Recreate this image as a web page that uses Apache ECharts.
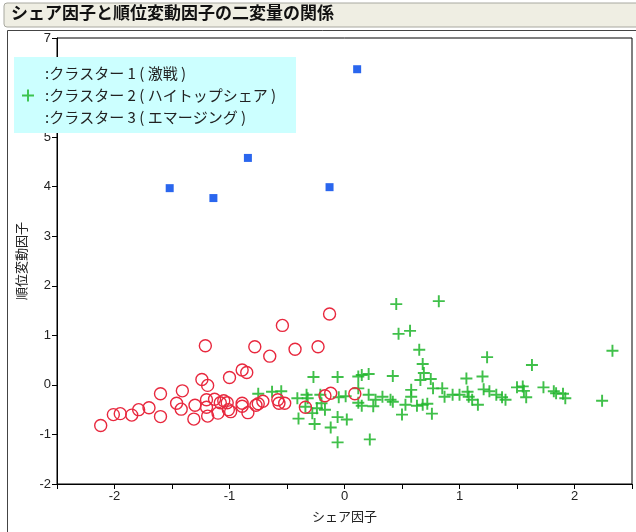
<!DOCTYPE html>
<html>
<head>
<meta charset="utf-8">
<script src="https://cdn.jsdelivr.net/npm/echarts@6/dist/echarts.min.js"></script>
<style>
  html, body { margin: 0; padding: 0; background: #fff; }
  #chart { width: 636px; height: 532px; }
</style>
</head>
<body>
<div id="chart"></div>
<script>
var seriesNames = [':クラスター 1 ( 激戦 )', ':クラスター 2 ( ハイトップシェア )', ':クラスター 3 ( エマージング )'];

// クラスター1 (激戦)
var cluster1 = [[-1.52, 3.97], [-1.14, 3.77], [-0.84, 4.58], [-0.13, 3.99], [0.11, 6.37]];

// クラスター2 (ハイトップシェア)
var cluster2 = [
    [0.45, 1.63], [0.82, 1.69], [0.47, 1.03], [0.57, 1.09], [0.65, 0.71], [0.68, 0.42], [0.69, 0.24],
    [0.66, 0.10], [0.75, 0.12], [1.24, 0.56], [1.20, 0.17], [1.06, 0.13], [1.63, 0.40], [2.33, 0.69],
    [2.24, -0.32], [0.42, 0.18], [0.12, 0.17], [0.21, 0.22], [0.15, 0.20], [-0.06, 0.16], [-0.27, 0.16],
    [-0.55, -0.13], [-0.63, -0.14], [-0.75, -0.18], [-0.41, -0.27], [-0.33, -0.20], [-0.32, -0.27],
    [-0.21, -0.20], [-0.20, -0.37], [-0.24, -0.47], [-0.17, -0.50], [-0.28, -0.57], [-0.26, -0.79],
    [-0.40, -0.68], [-0.12, -0.86], [-0.06, -0.65], [0.02, -0.70], [-0.06, -1.16], [0.22, -1.10],
    [-0.05, -0.25], [0.01, -0.23], [0.12, -0.07], [0.12, -0.36], [0.15, -0.42], [0.21, -0.20],
    [0.27, -0.30], [0.25, -0.43], [0.33, -0.24], [0.40, -0.30], [0.42, -0.34], [0.50, -0.60],
    [0.53, -0.40], [0.58, -0.10], [0.58, -0.24], [0.63, -0.42], [0.68, -0.40], [0.72, -0.38],
    [0.76, -0.58], [0.77, -0.07], [0.85, -0.07], [0.87, -0.24], [0.94, -0.20], [1.00, -0.20],
    [1.07, -0.14], [1.08, -0.24], [1.11, -0.30], [1.16, -0.40], [1.21, -0.09], [1.26, -0.13],
    [1.32, -0.20], [1.37, -0.25], [1.40, -0.30], [1.50, -0.05], [1.55, -0.03], [1.56, -0.12],
    [1.58, -0.25], [1.73, -0.05], [1.82, -0.13], [1.84, -0.17], [1.90, -0.18], [1.92, -0.27],
    [-0.34, -0.44]
];

// クラスター3 (エマージング)
var cluster3 = [
    [-2.12, -0.82], [-2.01, -0.60], [-1.95, -0.58], [-1.85, -0.61], [-1.79, -0.50], [-1.70, -0.46],
    [-1.60, -0.18], [-1.60, -0.64], [-1.46, -0.37], [-1.42, -0.49], [-1.41, -0.12], [-1.30, -0.41],
    [-1.31, -0.69], [-1.24, 0.11], [-1.19, -0.01], [-1.21, 0.79], [-1.20, -0.30], [-1.20, -0.45],
    [-1.19, -0.63], [-1.13, -0.29], [-1.10, -0.57], [-1.08, -0.36], [-1.05, -0.32], [-1.02, -0.36],
    [-1.00, 0.15], [-1.01, -0.50], [-0.99, -0.54], [-0.89, 0.30], [-0.85, 0.25], [-0.89, -0.37],
    [-0.89, -0.43], [-0.84, -0.56], [-0.78, 0.77], [-0.77, -0.41], [-0.75, -0.38], [-0.71, -0.33],
    [-0.65, 0.58], [-0.54, 1.20], [-0.58, -0.30], [-0.57, -0.37], [-0.52, -0.37], [-0.43, 0.72],
    [-0.34, -0.45], [-0.23, 0.77], [-0.13, 1.43], [-0.17, -0.22], [-0.12, -0.17], [0.09, -0.18]
];

var xMin = -2.5, xMax = 2.5, xStep = 0.5;
var yMin = -2, yMax = 7, yStep = 1;

var plusPath = 'path://M4.2,0H5.8V4.2H10V5.8H5.8V10H4.2V5.8H0V4.2H4.2Z';
var labelFont = '"Liberation Sans", Arial, sans-serif';
var jpFont = '"Noto Sans CJK JP", sans-serif';

var myChart = echarts.init(document.getElementById('chart'));

var option = {
    backgroundColor: '#fff',
    animation: false,
    graphic: [
        {
            type: 'rect', z: 0,
            shape: { x: 4, y: 3, width: 640, height: 24, r: 3 },
            style: { fill: '#efeee3', stroke: '#a8a8a0', lineWidth: 1 }
        },
        {
            type: 'text', z: 1, left: 11, top: 4,
            style: { text: 'シェア因子と順位変動因子の二変量の関係', font: 'bold 17px ' + jpFont, fill: '#111' }
        },
        {
            type: 'rect', z: 0,
            shape: { x: 7.5, y: 30.5, width: 640, height: 520 },
            style: { fill: 'none', stroke: '#444', lineWidth: 1 }
        },
        {
            type: 'rect', z: 3,
            shape: { x: 14, y: 57, width: 282, height: 76 },
            style: { fill: '#ccffff' }
        }
    ],
    legend: {
        orient: 'vertical',
        left: 17,
        top: 61,
        z: 4,
        itemWidth: 12,
        itemHeight: 12,
        itemGap: 7,
        textStyle: { fontFamily: jpFont, fontSize: 15, color: '#222', padding: [0, 0, 0, 6] },
        data: [
            { name: seriesNames[0], icon: 'none' },
            { name: seriesNames[1], icon: plusPath, itemStyle: { color: '#22b830' } },
            { name: seriesNames[2], icon: 'none' }
        ]
    },
    grid: {
        left: 57, right: 4, top: 38, bottom: 48,
        show: true, borderColor: '#000', borderWidth: 1, backgroundColor: 'transparent'
    },
    xAxis: {
        type: 'value',
        min: xMin, max: xMax, interval: xStep,
        name: 'シェア因子',
        nameLocation: 'middle',
        nameGap: 26,
        nameTextStyle: { fontFamily: jpFont, fontSize: 13, color: '#222' },
        axisLine: { onZero: false, lineStyle: { color: '#000', width: 1 } },
        axisTick: { length: 5, lineStyle: { color: '#000' } },
        splitLine: { show: false },
        axisLabel: {
            fontFamily: labelFont, fontSize: 13, color: '#222', margin: 6,
            formatter: function (v) { return Math.abs(v - Math.round(v)) < 1e-9 ? String(Math.round(v)) : ''; }
        }
    },
    yAxis: {
        type: 'value',
        min: yMin, max: yMax, interval: yStep,
        name: '順位変動因子',
        nameLocation: 'middle',
        nameGap: 29,
        nameTextStyle: { fontFamily: jpFont, fontSize: 13, color: '#222' },
        axisLine: { onZero: false, lineStyle: { color: '#000', width: 1 } },
        axisTick: { length: 5, lineStyle: { color: '#000' } },
        splitLine: { show: false },
        axisLabel: { fontFamily: labelFont, fontSize: 13, color: '#222', margin: 6 }
    },
    series: [
        {
            name: seriesNames[0],
            type: 'scatter',
            symbol: 'rect',
            symbolSize: 8,
            itemStyle: { color: '#2a66ee', opacity: 1 },
            data: cluster1
        },
        {
            name: seriesNames[1],
            type: 'scatter',
            symbol: plusPath,
            symbolSize: 12,
            itemStyle: { color: '#1fb52a', opacity: 0.85 },
            data: cluster2
        },
        {
            name: seriesNames[2],
            type: 'scatter',
            symbol: 'circle',
            symbolSize: 12,
            itemStyle: { color: 'rgba(0,0,0,0)', borderColor: '#e8283e', borderWidth: 1.4, opacity: 1 },
            data: cluster3
        }
    ]
};

myChart.setOption(option);
</script>
</body>
</html>
